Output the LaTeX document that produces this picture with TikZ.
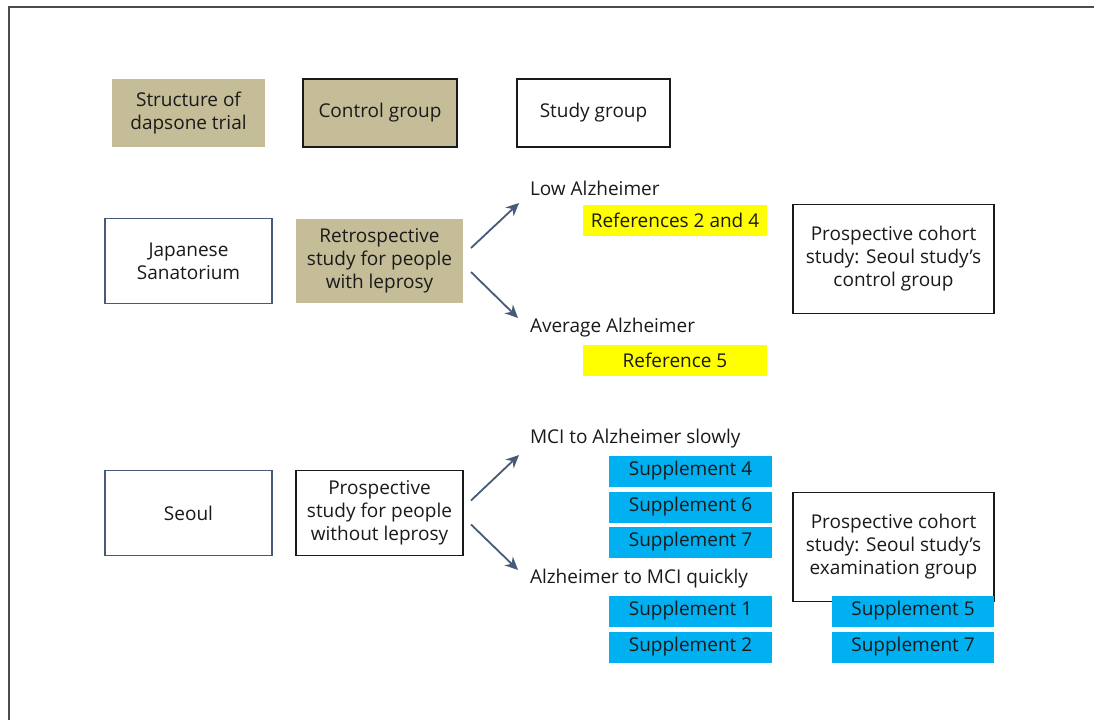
\documentclass[tikz,border=0pt]{standalone}
\usepackage{fontspec}
\setmainfont{Open Sans}
\usetikzlibrary{arrows.meta}
\definecolor{tan}{HTML}{C4BD97}
\definecolor{slate}{HTML}{475A78}
\definecolor{cyanbox}{HTML}{00B0F0}
\definecolor{yel}{HTML}{FFFF00}
\definecolor{ink}{HTML}{1A1A1A}
\begin{document}
\begin{tikzpicture}[x=1pt,y=-1pt,
  every node/.style={inner sep=0pt, outer sep=0pt, text=ink, font=\fontsize{19}{23}\selectfont, align=center},
  tanbox/.style={fill=tan, minimum width=#1},
  blackbox/.style={draw=ink, line width=1.8pt, fill=white},
  slatebox/.style={draw=slate, line width=1.8pt, fill=white, minimum width=167pt, minimum height=85pt},
  yelbox/.style={fill=yel, minimum width=184pt, minimum height=31pt},
  cybox/.style={fill=cyanbox, minimum height=31pt, minimum width=#1},
  lbl/.style={anchor=west},
  arr/.style={draw=slate, line width=1.8pt, -{Stealth[length=13pt,width=12pt]}}
]
\useasboundingbox (0,0) rectangle (1094,720);
\draw[draw=black!70, line width=2pt] (9,720) -- (9,7) -- (1094,7);

\node[tanbox=153pt, minimum height=68pt] (struct) at (188.5,113) {Structure of\\dapsone trial};
\node[tanbox=154pt, minimum height=68pt, draw=ink, line width=1.8pt] (control) at (380,113) {Control group};
\node[blackbox, minimum width=153pt, minimum height=68pt] (study) at (593.5,113) {Study group};

\node[slatebox] (japan) at (188.5,261) {Japanese\\Sanatorium};
\node[tanbox=167pt, minimum height=84pt] (retro) at (379.5,260.5) {Retrospective\\study for people\\with leprosy};
\coordinate (tipA) at (519,203);
\coordinate (tipB) at (518,318);
\draw[arr] ([shift={(8,-12.5)}]retro.east) -- (tipA);
\draw[arr] ([shift={(8,11.5)}]retro.east) -- (tipB);
\node[lbl] (lowalz) at (530,188) {Low Alzheimer};
\node[yelbox] (ref24) at (675,220) {References 2 and 4};
\node[lbl] (avgalz) at (530,328) {Average Alzheimer};
\node[yelbox] (ref5) at (675,360) {Reference 5};
\node[blackbox, minimum width=201pt, minimum height=109pt] (pcs1) at (893.5,259) {Prospective cohort\\study: Seoul study’s\\control group};

\node[slatebox] (seoul) at (188.5,513) {Seoul};
\node[blackbox, minimum width=167pt, minimum height=85pt] (prosp) at (379.5,513) {Prospective\\study for people\\without leprosy};
\coordinate (tipC) at (519,455);
\coordinate (tipD) at (518,570);
\draw[arr] ([shift={(8,-12.5)}]prosp.east) -- (tipC);
\draw[arr] ([shift={(8,11.5)}]prosp.east) -- (tipD);
\node[lbl] (mcislow) at (530,439) {MCI to Alzheimer slowly};
\node[cybox=163pt] (sup4) at (690.5,471) {Supplement 4};
\node[cybox=163pt] (sup6) at (690.5,507) {Supplement 6};
\node[cybox=163pt] (sup7a) at (690.5,542) {Supplement 7};
\node[lbl] (alzquick) at (530,579) {Alzheimer to MCI quickly};
\node[cybox=163pt] (sup1) at (690.5,611) {Supplement 1};
\node[cybox=163pt] (sup2) at (690.5,647) {Supplement 2};

\node[blackbox, minimum width=201pt, minimum height=109pt] (pcs2) at (893.5,547) {Prospective cohort\\study: Seoul study’s\\examination group};
\node[cybox=162pt] (sup5) at (913,611) {Supplement 5};
\node[cybox=162pt] (sup7b) at (913,647) {Supplement 7};
\end{tikzpicture}
\end{document}
